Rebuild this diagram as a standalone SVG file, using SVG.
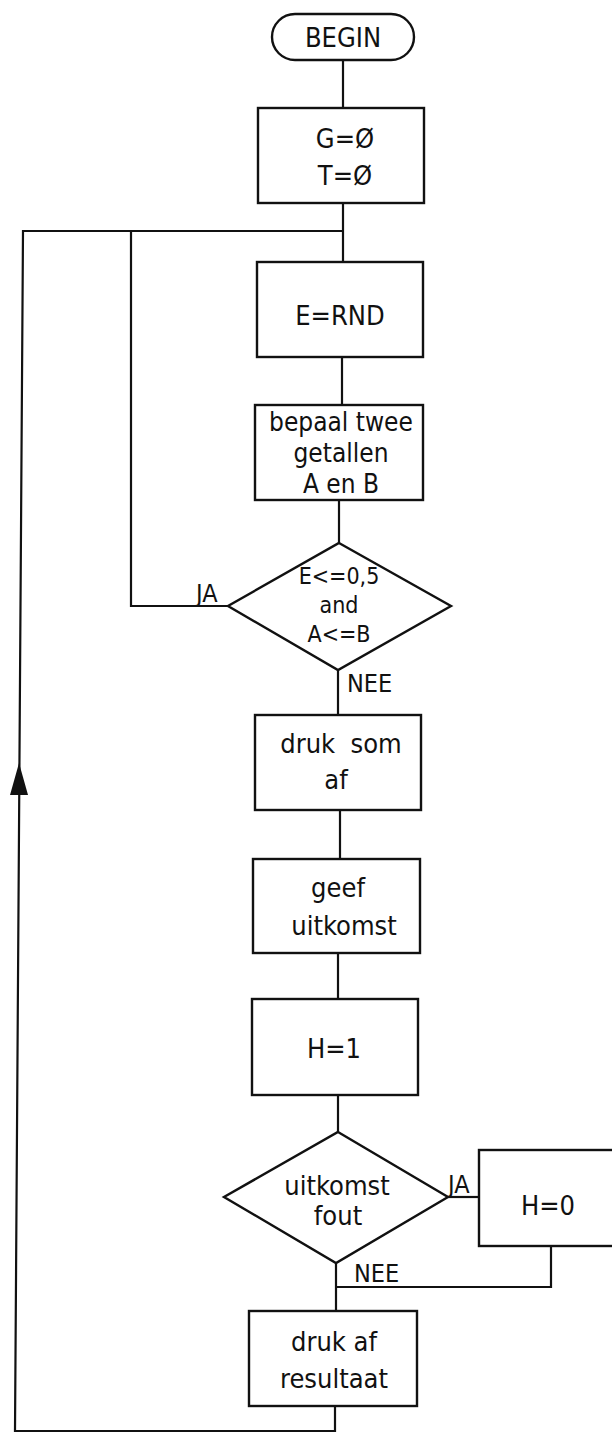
<svg xmlns="http://www.w3.org/2000/svg" width="612" height="1432" viewBox="0 0 612 1432">
<style>
.s{fill:#fff;stroke:#111;stroke-width:2.4}
.c{fill:none;stroke:#111;stroke-width:2.2}
text{font-family:"DejaVu Sans Condensed","Liberation Sans Narrow","Liberation Sans",sans-serif;font-stretch:condensed;fill:#111;text-anchor:middle}
.t{font-size:27px}
.m{font-size:26px}
.d{font-size:23px}
.b{font-size:27px}
.l{font-size:25px;text-anchor:start}
</style>
<rect width="612" height="1432" fill="#fff"/>
<g id="connectors">
<path class="c" d="M343,61V108"/>
<path class="c" d="M343,203V262"/>
<path class="c" d="M342,357V405"/>
<path class="c" d="M339,500V543"/>
<path class="c" d="M338,670V715"/>
<path class="c" d="M340,810V859"/>
<path class="c" d="M338,953V999"/>
<path class="c" d="M338,1095V1132"/>
<path class="c" d="M336,1263V1311"/>
<path class="c" d="M335,1406V1431H15L23,231H343"/>
<path class="c" d="M228,606H131V232"/>
<path class="c" d="M448,1197H479"/>
<path class="c" d="M551,1246V1287H336"/>
<polygon points="19,763 10,795 28,795" fill="#111"/>
<text class="l" x="196" y="602">JA</text>
<text class="l" x="347" y="692">NEE</text>
<text class="l" x="448" y="1193">JA</text>
<text class="l" x="354" y="1282">NEE</text>
</g>
<g id="begin">
<rect class="s" x="272" y="14" width="142" height="46" rx="23"/>
<text class="b" x="343" y="47">BEGIN</text>
</g>
<g id="init">
<rect class="s" x="258" y="108" width="166" height="95"/>
<text class="b" x="345" y="148">G=Ø</text>
<text class="b" x="345" y="185">T=Ø</text>
</g>
<g id="rnd">
<rect class="s" x="257" y="262" width="166" height="95"/>
<text class="b" x="340" y="325">E=RND</text>
</g>
<g id="bepaal">
<rect class="s" x="255" y="405" width="168" height="95"/>
<text class="m" x="341" y="431">bepaal twee</text>
<text class="m" x="341" y="462">getallen</text>
<text class="m" x="341" y="493">A en B</text>
</g>
<g id="cond1">
<polygon class="s" points="339,543 451,606 338,670 228,606"/>
<text class="d" x="339" y="584">E&lt;=0,5</text>
<text class="d" x="339" y="613">and</text>
<text class="d" x="339" y="642">A&lt;=B</text>
</g>
<g id="drukSom">
<rect class="s" x="255" y="715" width="166" height="95"/>
<text class="t" x="341" y="753" xml:space="preserve">druk  som</text>
<text class="t" x="336" y="789">af</text>
</g>
<g id="geef">
<rect class="s" x="253" y="859" width="167" height="94"/>
<text class="t" x="338" y="897">geef</text>
<text class="t" x="344" y="935">uitkomst</text>
</g>
<g id="h1">
<rect class="s" x="252" y="999" width="166" height="96"/>
<text class="b" x="334" y="1058">H=1</text>
</g>
<g id="cond2">
<polygon class="s" points="338,1132 448,1197 336,1263 224,1197"/>
<text class="t" x="337" y="1195">uitkomst</text>
<text class="t" x="338" y="1225">fout</text>
</g>
<g id="h0">
<rect class="s" x="479" y="1150" width="145" height="96"/>
<text class="b" x="548" y="1215">H=0</text>
</g>
<g id="drukAf">
<rect class="s" x="249" y="1311" width="168" height="95"/>
<text class="t" x="334" y="1351">druk af</text>
<text class="t" x="334" y="1388">resultaat</text>
</g>
</svg>
